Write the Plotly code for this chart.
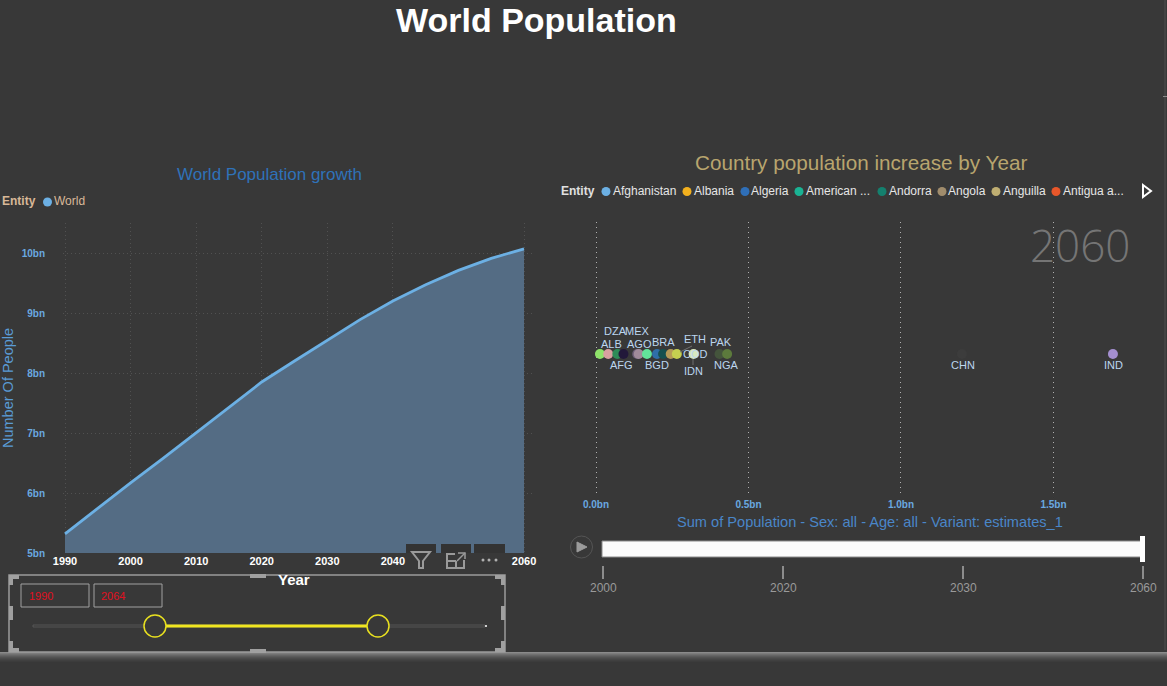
import plotly.graph_objects as go

W, H = 1167, 686
BG = "#383838"

# Left chart data
years = [1990, 1995, 2000, 2005, 2010, 2015, 2020, 2025, 2030, 2035, 2040, 2045, 2050, 2055, 2060]
world_bn = [5.32, 5.75, 6.17, 6.58, 7.0, 7.43, 7.85, 8.2, 8.55, 8.89, 9.2, 9.47, 9.71, 9.91, 10.07]
y_ticks = [5, 6, 7, 8, 9, 10]
y_labels = ["5bn", "6bn", "7bn", "8bn", "9bn", "10bn"]
x_ticks = [1990, 2000, 2010, 2020, 2030, 2040, 2060]

# Right chart data
codes = ["", "ALB", "DZA", "AFG", "MEX", "AGO", "", "BGD", "", "BRA", "ETH", "COD", "IDN", "PAK", "NGA", "CHN", "IND"]
pop_bn = [0.013, 0.04, 0.07, 0.09, 0.135, 0.14, 0.167, 0.2, 0.22, 0.245, 0.265, 0.3, 0.32, 0.405, 0.43, 1.2, 1.695]
level = [0.52] * 17
colors = ["#8fe36a", "#d9a0a0", "#2e8b57", "#22183a", "#6d5f78", "#a08a9a", "#62e39a", "#2f6ea8", "#16504f",
          "#b59a58", "#c5cf50", "#3a3a3a", "#d8e8c0", "#44543c", "#5c7a3c", "#3c3c3c", "#a48fd0"]
label_dx = [0, 3, -2, -2, 0, 1, 0, 0, 0, -7, 18, 8, 0, 1, -1, 1, 1]
label_dy = [0, 10, 23, -11, 23, 10, 0, -11, 0, 12, 15, 0, -17, 12, -11, -11, -11]
x2_ticks = [0, 0.5, 1.0, 1.5]
x2_labels = ["0.0bn", "0.5bn", "1.0bn", "1.5bn"]

# Legend + play axis + slicer text
legend_names = ["Afghanistan", "Albania", "Algeria", "American ...", "Andorra", "Angola", "Anguilla", "Antigua a..."]
legend_colors = ["#6cb0e4", "#f2b01e", "#2f6fb8", "#1ab394", "#14806e", "#a08c6c", "#bfae72", "#e8572a"]
legend_dot_x = [606, 687, 745, 799, 882, 942, 996, 1056]
legend_txt_x = [613, 694, 751, 806, 889, 948, 1003, 1063]
play_years = ["2000", "2020", "2030", "2060"]
play_x = [603, 783, 963, 1143]
slicer_values = ["1990", "2064"]


def px(x):
    return x / W


def py(y):
    return 1 - y / H


anns, shapes = [], []


def text(x, y, s, size, color, bold=False, anchor="center", font="Liberation Sans", angle=0, weight=None):
    # placed on a hidden full-canvas axis pair, so the text cannot push the margins
    f = dict(family=font, size=size, color=color)
    if weight:
        f["weight"] = weight
    anns.append(dict(xref="x3", yref="y3", x=x, y=y, text=f"<b>{s}</b>" if bold else s,
                     showarrow=False, xanchor=anchor, yanchor="middle", textangle=angle,
                     font=f, borderpad=0, borderwidth=0))


def rect(x0, y0, x1, y1, fill=None, line=None, lw=1, layer="above"):
    shapes.append(dict(type="rect", xref="paper", yref="paper", x0=px(x0), x1=px(x1), y0=py(y0), y1=py(y1),
                       fillcolor=fill or "rgba(0,0,0,0)", line=dict(color=line or "rgba(0,0,0,0)", width=lw if line else 0),
                       layer=layer))


def line(x0, y0, x1, y1, color, lw=1):
    shapes.append(dict(type="line", xref="paper", yref="paper", x0=px(x0), x1=px(x1), y0=py(y0), y1=py(y1),
                       line=dict(color=color, width=lw), layer="above"))


def circle(cx, cy, r, fill=None, stroke=None, lw=1):
    shapes.append(dict(type="circle", xref="paper", yref="paper", x0=px(cx - r), x1=px(cx + r), y0=py(cy - r), y1=py(cy + r),
                       fillcolor=fill or "rgba(0,0,0,0)", line=dict(color=stroke or "rgba(0,0,0,0)", width=lw if stroke else 0),
                       layer="above"))


def path(d, color, lw=2, fill=None):
    parts = []
    for seg in d:
        if seg == "Z":
            parts.append("Z")
        else:
            parts.append(f"{seg[0]}{px(seg[1]):.5f},{py(seg[2]):.5f}")
    shapes.append(dict(type="path", xref="paper", yref="paper", path=" ".join(parts),
                       line=dict(color=color, width=lw), fillcolor=fill or "rgba(0,0,0,0)", layer="above"))


fig = go.Figure()

# left chart
fig.add_trace(go.Scatter(x=years, y=world_bn, mode="lines", fill="tozeroy", fillcolor="#546c84",
                         line=dict(color="#6cb0e4", width=2.8), xaxis="x", yaxis="y",
                         showlegend=False, hoverinfo="skip"))
# right chart
fig.add_trace(go.Scatter(x=pop_bn, y=level, mode="markers", marker=dict(size=10, color=colors, opacity=1),
                         xaxis="x2", yaxis="y2", showlegend=False, hoverinfo="skip"))
# empty trace that keeps the full-canvas text axes alive
fig.add_trace(go.Scatter(x=[None], y=[None], xaxis="x3", yaxis="y3", showlegend=False, hoverinfo="skip"))

for c, xv, yv, dx, dy in zip(codes, pop_bn, level, label_dx, label_dy):
    if c:
        anns.append(dict(xref="x2", yref="y2", x=xv, y=yv, text=c, showarrow=False, xshift=dx, yshift=dy,
                         font=dict(family="Liberation Sans", size=11, color="#bcd6ef"), xanchor="center", yanchor="middle"))

# label leader lines
line(680, 352, 692, 346, "#6f6f6f", 1)
line(693, 359, 693, 365, "#6f6f6f", 1)

# titles
text(536, 20, "World Population", 34, "#ffffff", bold=True)
text(269, 174, "World Population growth", 17, "#2f72b8")
text(861, 162, "Country population increase by Year", 20.7, "#b8a56e")
text(870, 522, "Sum of Population - Sex: all - Age: all - Variant: estimates_1", 14.6, "#4a86c8")
text(1080, 245, "2060", 44, "#757575", anchor="center", font="Open Sans", weight=300)
text(8, 388, "Number Of People", 14.5, "#5a9bd5", angle=-90)
text(294, 579, "Year", 15, "#ffffff", bold=True)

# left legend
text(2, 201, "Entity", 12, "#d8b898", bold=True, anchor="left")
circle(47.5, 202, 4.5, fill="#6cb0e4")
text(54, 201, "World", 12, "#d8b898", anchor="left")

# right legend
text(561, 191, "Entity", 12, "#e0e0e0", bold=True, anchor="left")
for n, c, dx_, tx_ in zip(legend_names, legend_colors, legend_dot_x, legend_txt_x):
    circle(dx_, 191.5, 4.5, fill=c)
    text(tx_, 191, n, 12, "#e6e6e6", anchor="left")
path([("M", 1143, 185), ("L", 1151, 191), ("L", 1143, 197), "Z"], "#ffffff", lw=2)

# page edge
line(1165, 0, 1165, 650, "#4e4e4e", 1)
line(1163, 96.5, 1167, 96.5, "#8a8a8a", 1)

# play axis
circle(581.5, 547, 11, stroke="#555555", lw=1)
path([("M", 577, 542), ("L", 587, 547), ("L", 577, 552), "Z"], "#9a9a9a", lw=1, fill="#9a9a9a")
rect(602, 541, 1142, 557, fill="#fbfbfb", line="#8a8a8a", lw=1)
rect(1140, 536, 1145, 562, fill="#ffffff")
for lab, x_ in zip(play_years, play_x):
    line(x_, 566, x_, 579, "#8c8c8c", 2)
    text(x_, 588, lab, 12, "#9a9a9a")

# focus icons
rect(406, 544, 436, 553, fill="#333333")
rect(441, 544, 471, 553, fill="#333333")
rect(474, 544, 505, 553, fill="#333333")
path([("M", 412, 552), ("L", 430, 552), ("L", 423, 561), ("L", 423, 568), ("L", 419, 568), ("L", 419, 561), "Z"], "#9a9a9a", lw=2)
path([("M", 455, 554), ("L", 447, 554), ("L", 447, 568), ("L", 464, 568), ("L", 464, 560)], "#9a9a9a", lw=2)
line(447, 561, 456, 561, "#9a9a9a", 2)
line(456, 561, 456, 568, "#9a9a9a", 2)
path([("M", 458, 553), ("L", 465, 553), ("L", 465, 559)], "#9a9a9a", lw=1.5)
line(457, 561, 465, 553, "#9a9a9a", 1.5)
for xd in (483, 489, 496):
    circle(xd, 560, 1.5, fill="#b0b0b0")

# bottom gradient band
band = ["#8a8a8a", "#7c7c7c", "#707070", "#656565", "#5b5b5b", "#525252", "#4b4b4b", "#454545", "#404040", "#3c3c3c"]
for i, c in enumerate(band):
    rect(0, 652 + i, W, 653 + i, fill=c)

# slicer
rect(9, 575, 505, 652, line="#9a9a9a", lw=1.5)
for (a, b, c_, d) in [(9, 575, 19, 579), (9, 575, 13, 585), (495, 575, 505, 579), (501, 575, 505, 585),
                      (9, 648, 19, 652), (9, 641, 13, 652), (495, 648, 505, 652), (501, 641, 505, 652),
                      (250, 574, 266, 578), (250, 649, 266, 653), (9, 606, 13, 620), (501, 606, 505, 620)]:
    rect(a, b, c_, d, fill="#a0a0a0")
rect(21, 584, 89, 607, line="#a0a0a0", lw=1)
rect(94, 584, 162, 607, line="#a0a0a0", lw=1)
text(29, 596, slicer_values[0], 11, "#e01020", anchor="left")
text(101, 596, slicer_values[1], 11, "#e01020", anchor="left")
rect(33, 625, 485, 627, line="#626262", lw=0.7)
circle(486, 626, 1, fill="#ffffff")
line(166, 626, 367, 626, "#f0e620", 3)
circle(155, 626, 11, stroke="#e8e020", lw=1.5, fill=BG)
circle(378, 626, 11, stroke="#e8e020", lw=1.5, fill=BG)

grid_l = "rgba(255,255,255,0.13)"
fig.update_layout(
    width=W, height=H, margin=dict(l=0, r=0, t=0, b=0), paper_bgcolor=BG, plot_bgcolor="rgba(0,0,0,0)",
    font=dict(family="Liberation Sans"), showlegend=False, annotations=anns, shapes=shapes,
    xaxis=dict(domain=[px(63), px(533)], range=[1989.695, 2061.37], tickvals=x_ticks, showgrid=True, gridcolor=grid_l,
               griddash="1px,3px", gridwidth=1, zeroline=False, showline=False, ticks="", automargin=False,
               tickfont=dict(size=11, color="#ffffff", family="Liberation Sans", weight="bold"), anchor="y",
               tickformat="d"),
    yaxis=dict(domain=[py(553), py(223)], range=[5, 10.5], tickvals=y_ticks, ticktext=y_labels, showgrid=True,
               gridcolor=grid_l, griddash="1px,3px", gridwidth=1, zeroline=False, showline=False, ticks="", automargin=False,
               tickfont=dict(size=10, color="#6aa9e0", family="Liberation Sans", weight="bold"), anchor="x",
               ticklabelstandoff=17),
    xaxis2=dict(domain=[px(594), px(1130)], range=[-0.00656, 1.751], tickvals=x2_ticks, ticktext=x2_labels, showgrid=True,
                gridcolor="#b0b0b0", griddash="1px,4px", gridwidth=1, zeroline=False, showline=False, ticks="", automargin=False,
                tickfont=dict(size=10, color="#6aa9e0", family="Liberation Sans", weight="bold"), anchor="y2"),
    yaxis2=dict(domain=[py(497), py(222)], range=[0, 1], visible=False, anchor="x2", automargin=False),
    xaxis3=dict(domain=[0, 1], range=[0, W], visible=False, anchor="y3", fixedrange=True, automargin=False),
    yaxis3=dict(domain=[0, 1], range=[H, 0], visible=False, anchor="x3", fixedrange=True, automargin=False),
)

fig.write_html("out.html", post_script="document.body.style.margin='0';document.body.style.background='%s';" % BG,
               config=dict(displayModeBar=False))
